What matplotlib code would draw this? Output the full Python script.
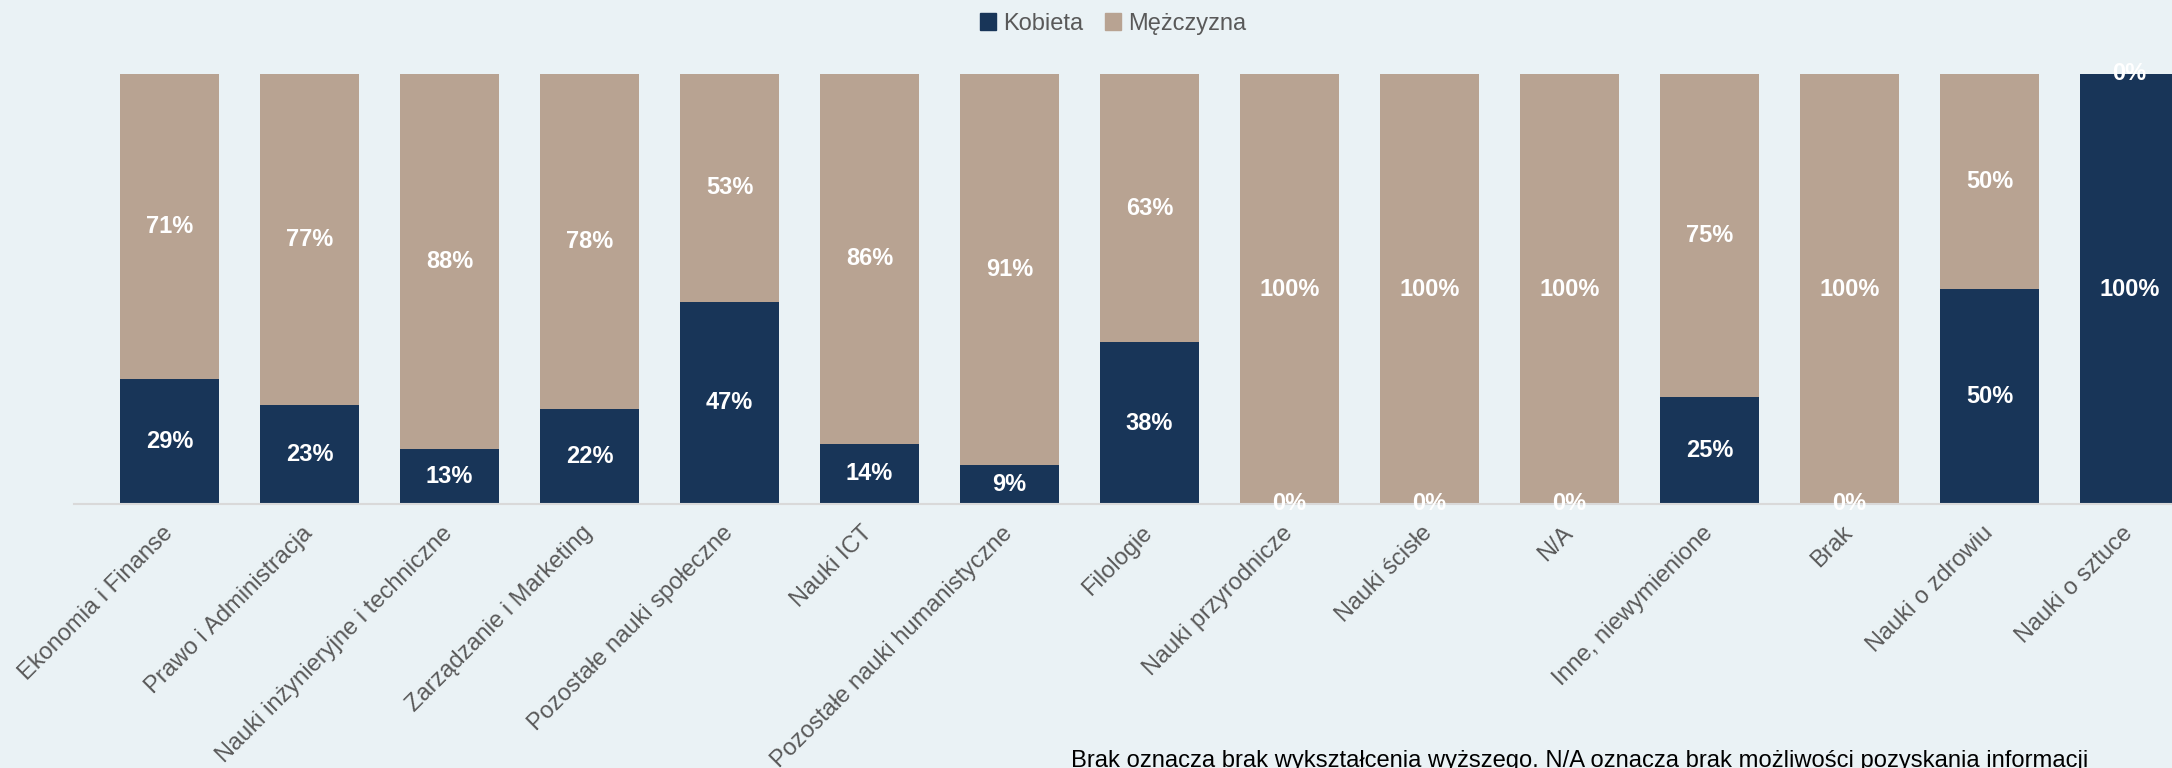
import matplotlib.pyplot as plt
from matplotlib.patches import Patch
from matplotlib.transforms import ScaledTranslation

plt.rcParams['font.family'] = ['Liberation Sans', 'DejaVu Sans']

categories = ['Ekonomia i Finanse', 'Prawo i Administracja', 'Nauki inżynieryjne i techniczne',
              'Zarządzanie i Marketing', 'Pozostałe nauki społeczne', 'Nauki ICT',
              'Pozostałe nauki humanistyczne', 'Filologie', 'Nauki przyrodnicze', 'Nauki ścisłe',
              'N/A', 'Inne, niewymienione', 'Brak', 'Nauki o zdrowiu', 'Nauki o sztuce']
kobieta = [29, 23, 13, 22, 47, 14, 9, 38, 0, 0, 0, 25, 0, 50, 100]
mezczyzna = [71, 77, 88, 78, 53, 86, 91, 63, 100, 100, 100, 75, 100, 50, 0]

NAVY = '#183558'
TAN = '#B8A392'
BG = '#EAF2F5'
GREY = '#595959'

W, H = 2172, 768
fig = plt.figure(figsize=(W / 100, H / 100), dpi=100, facecolor=BG)
# pixel layout: first bar centre at 169.5 px, 140 px per category
left_px, top_px, bottom_px = 74, 74, 504
unit = 140
x0 = -(169.5 - left_px) / unit
x1 = len(categories) - 0.5
ax = fig.add_axes([left_px / W, (H - bottom_px) / H, (x1 - x0) * unit / W, (bottom_px - top_px) / H])
ax.set_facecolor(BG)

x = list(range(len(categories)))
tot = [k + m for k, m in zip(kobieta, mezczyzna)]
k_h = [100 * k / t for k, t in zip(kobieta, tot)]
m_h = [100 * m / t for m, t in zip(mezczyzna, tot)]

ax.bar(x, k_h, width=0.707, color=NAVY, label='Kobieta')
ax.bar(x, m_h, width=0.707, bottom=k_h, color=TAN, label='Mężczyzna')

for i in x:
    ax.text(i, k_h[i] / 2, f'{kobieta[i]}%', ha='center', va='center', color='white',
            fontsize=17, fontweight='bold')
    ax.text(i, k_h[i] + m_h[i] / 2, f'{mezczyzna[i]}%', ha='center', va='center', color='white',
            fontsize=17, fontweight='bold')

ax.set_xlim(x0, x1)
ax.set_ylim(0, 100)
ax.set_yticks([])
ax.set_xticks(x)
ax.set_xticklabels(categories, rotation=45, ha='right', va='top', rotation_mode='anchor',
                   fontsize=17, color=GREY)
ax.tick_params(axis='x', length=0, pad=13)
shift = ScaledTranslation(-8 / 100, 0, fig.dpi_scale_trans)
for lab in ax.get_xticklabels():
    lab.set_transform(lab.get_transform() + shift)
for s in ['top', 'right', 'left']:
    ax.spines[s].set_visible(False)
ax.spines['bottom'].set_color('#D9D9D9')
ax.spines['bottom'].set_linewidth(1.5)

handles = [Patch(color=NAVY, label='Kobieta'), Patch(color=TAN, label='Mężczyzna')]
fig.legend(handles=handles, loc='center', bbox_to_anchor=(1113 / W, 1 - 24 / H), ncol=2,
           frameon=False, fontsize=17, labelcolor=GREY, handlelength=0.7, handleheight=0.7,
           handletextpad=0.3, columnspacing=0.9)

fig.text(1071 / W, 1 - 750 / H, 'Brak oznacza brak wykształcenia wyższego. N/A oznacza brak możliwości pozyskania informacji',
         ha='left', va='top', fontsize=17.1, color='black')

fig.savefig('out.png', dpi=100, facecolor=BG)
